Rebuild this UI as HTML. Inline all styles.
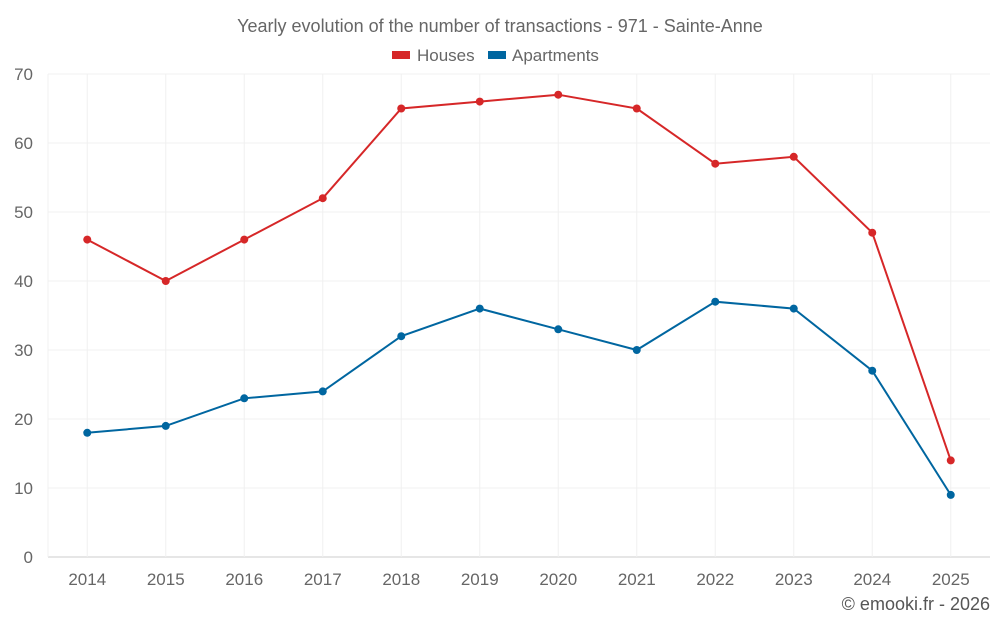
<!DOCTYPE html>
<html><head><meta charset="utf-8"><style>
body{margin:0;background:#fff;font-family:"Liberation Sans",sans-serif;}
svg text{font-family:"Liberation Sans",sans-serif;}
</style></head><body>
<svg id="chart" width="1000" height="625" xmlns="http://www.w3.org/2000/svg">
<text x="500" y="32" text-anchor="middle" font-size="18" fill="#666">Yearly evolution of the number of transactions - 971 - Sainte-Anne</text>
<g>
<g><rect x="392" y="51" width="18" height="8" fill="#d62728"/><text x="417" y="61" font-size="17" fill="#666">Houses</text></g>
<g><rect x="488" y="51" width="18" height="8" fill="#0066a0"/><text x="512" y="61" font-size="17" fill="#666">Apartments</text></g>
</g>
<g id="grid"></g>
<g id="axes"></g>
<g id="series"></g>
<text x="990" y="610" text-anchor="end" font-size="18" fill="#555">© emooki.fr - 2026</text>
</svg>
<script>
const categories=["2014","2015","2016","2017","2018","2019","2020","2021","2022","2023","2024","2025"];
const houses=[46,40,46,52,65,66,67,65,57,58,47,14];
const apartments=[18,19,23,24,32,36,33,30,37,36,27,9];
const yTicks=[0,10,20,30,40,50,60,70];
const L=48,R=990,T=74,B=557,yMax=70;
const ns="http://www.w3.org/2000/svg";
const bw=(R-L)/categories.length;
const x=i=>L+bw*(i+0.5);
const y=v=>B-(v/yMax)*(B-T);
function mk(t,a,p){const e=document.createElementNS(ns,t);for(const k in a)e.setAttribute(k,a[k]);p.appendChild(e);return e;}
const grid=document.getElementById('grid'),axes=document.getElementById('axes'),series=document.getElementById('series');
yTicks.forEach(v=>{
 const g=mk('line',{x1:L,x2:R,y1:y(v),y2:y(v),stroke:v===0?'#ccc':'#f0f0f0','stroke-width':1},grid);
 
 
 const t=mk('text',{x:L-15,y:y(v)+6,'text-anchor':'end','font-size':17,fill:'#666'},axes);
 t.textContent=v;
 
 
});
categories.forEach((c,i)=>{
 const g=mk('line',{x1:x(i),x2:x(i),y1:T,y2:B,stroke:'#f0f0f0'},grid);
 
 
 const t=mk('text',{x:x(i),y:585,'text-anchor':'middle','font-size':17,fill:'#666'},axes);
 t.textContent=c;
 
 
});
mk('line',{x1:L,x2:L,y1:T,y2:B,stroke:'#f0f0f0'},grid);
function draw(vals,color,name){
 const p=mk('polyline',{points:vals.map((v,i)=>x(i)+','+y(v)).join(' '),fill:'none',stroke:color,'stroke-width':2},series);
 
 
 vals.forEach((v,i)=>{
  const c=mk('circle',{cx:x(i),cy:y(v),r:4,fill:color},series);
  
  
 });
}
draw(houses,'#d62728','houses');
draw(apartments,'#0066a0','apartments');
</script>
</body></html>
